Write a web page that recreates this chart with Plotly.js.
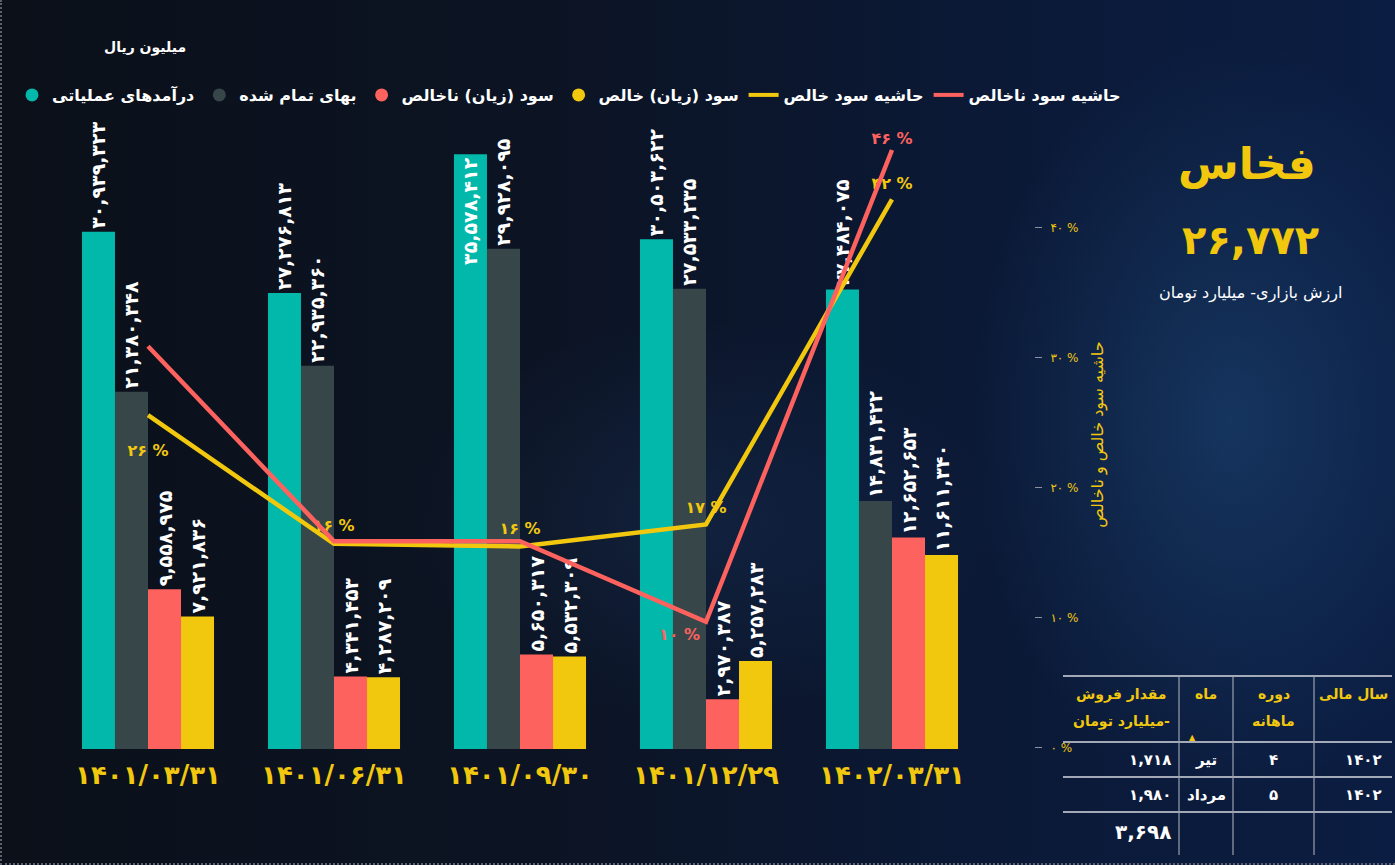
<!DOCTYPE html>
<html>
<head>
<meta charset="utf-8">
<script src="https://cdn.plot.ly/plotly-3.0.1.min.js"></script>
<style>
  html, body { margin: 0; padding: 0; }
  body {
    width: 1395px; height: 865px; overflow: hidden;
    background:
      radial-gradient(ellipse 260px 380px at 1230px 420px, rgba(45,110,170,0.30), rgba(0,0,0,0) 100%),
      radial-gradient(ellipse 300px 200px at 700px 520px, rgba(40,80,140,0.20), rgba(0,0,0,0) 100%),
      linear-gradient(90deg, #0b1019 0%, #0c1424 40%, #0b1936 70%, #0b1d42 100%);
  }
  #wrap { position: absolute; left: 0; top: 0; width: 1395px; height: 865px;
    border-left: 2px dotted #5a6070; border-bottom: 2px dotted #5a6070; box-sizing: border-box; }
  #chart { position: absolute; left: 0; top: 0; width: 1395px; height: 865px; }
</style>
</head>
<body>
<div id="wrap"></div>
<div id="chart"></div>
<script>
// ---------------- data ----------------
const categories = ['۱۴۰۱/۰۳/۳۱', '۱۴۰۱/۰۶/۳۱', '۱۴۰۱/۰۹/۳۰', '۱۴۰۱/۱۲/۲۹', '۱۴۰۲/۰۳/۳۱'];
const revenue     = [30939323, 27276813, 35578412, 30503622, 27484075];
const cost        = [21380348, 22935360, 29928095, 27533235, 14831422];
const grossProfit = [9558975, 4341453, 5650317, 2970387, 12652653];
const netProfit   = [7921836, 4287209, 5532309, 5257283, 11611340];
const grossMargin = [30.9, 15.9, 15.9, 9.7, 46.0];
const netMargin   = [25.6, 15.7, 15.5, 17.2, 42.2];
const grossMarginShown = [false, false, false, true, true];
const netMarginShown   = [true, true, true, true, true];

const seriesNames = ['درآمدهای عملیاتی', 'بهای تمام شده', 'سود (زیان) ناخالص', 'سود (زیان) خالص', 'حاشیه سود خالص', 'حاشیه سود ناخالص'];
const marginTicks = [0, 10, 20, 30, 40];

const tickerName = 'فخاس';
const marketValue = 26772;
const marketValueLabel = 'ارزش بازاری- میلیارد تومان';
const unitLabel = 'میلیون ریال';
const marginAxisTitle = 'حاشیه سود خالص و ناخالص';

const tableHeaderLine1 = ['سال مالی', 'دوره', 'ماه', 'مقدار فروش'];
const tableHeaderLine2 = ['', 'ماهانه', '', 'میلیارد تومان-'];
const tableYear   = [1402, 1402];
const tablePeriod = [4, 5];
const tableMonth  = ['تیر', 'مرداد'];
const tableSales  = [1718, 1980];
const tableTotal  = 3698;

// ---------------- helpers ----------------
const FA = '۰۱۲۳۴۵۶۷۸۹';
const fa = s => String(s).replace(/[0-9]/g, d => FA[d]);
const faNum = n => fa(Math.round(n).toLocaleString('en-US'));

const C_TEAL = '#01B8AA', C_GRAY = '#374649', C_RED = '#FD625E', C_YEL = '#F2C80F';
const FONT = 'DejaVu Sans, sans-serif';

const ML = 55, MT = 120, W = 1395, H = 865, MB = 116;
const PW = W - ML, PH = H - MT - MB;
const PX = x => (x - ML) / PW;
const PY = y => (H - MB - y) / PH;

const barText = arr => arr.map(faNum);
const barFont = {family: FONT, size: 19, color: '#ffffff', weight: 'bold'};

function barTrace(vals, color, positions) {
  return {
    type: 'bar', x: categories, y: vals,
    marker: {color: color},
    text: barText(vals),
    textposition: positions || 'outside',
    insidetextanchor: 'end',
    textangle: -90,
    textfont: barFont, outsidetextfont: barFont, insidetextfont: barFont,
    constraintext: 'none', cliponaxis: false,
    showlegend: false, hoverinfo: 'skip'
  };
}

const traces = [
  barTrace(revenue, C_TEAL, ['outside', 'outside', 'inside', 'outside', 'outside']),
  barTrace(cost, C_GRAY),
  barTrace(grossProfit, C_RED),
  barTrace(netProfit, C_YEL),
  {
    type: 'scatter', mode: 'lines+markers+text', x: categories, y: netMargin, yaxis: 'y2',
    line: {color: C_YEL, width: 4.5},
    marker: {size: [44, 12, 12, 10, 8], opacity: 0, line: {width: 0}},
    text: netMarginShown.map((s, i) => s ? fa(Math.round(netMargin[i])) + ' %' : ''),
    textposition: ['bottom center', 'top center', 'top center', 'top center', 'top center'],
    textfont: {family: FONT, size: 16, color: C_YEL, weight: 'bold'},
    cliponaxis: false, showlegend: false, hoverinfo: 'skip'
  },
  {
    type: 'scatter', mode: 'lines+markers+text', x: categories, y: grossMargin, yaxis: 'y2',
    line: {color: C_RED, width: 4.5},
    marker: {size: [2, 2, 2, 8, 1], opacity: 0, line: {width: 0}},
    text: grossMarginShown.map((s, i) => s ? fa(Math.round(grossMargin[i])) + ' %' : ''),
    textposition: ['top center', 'top center', 'top center', 'bottom left', 'top center'],
    textfont: {family: FONT, size: 16, color: C_RED, weight: 'bold'},
    cliponaxis: false, showlegend: false, hoverinfo: 'skip'
  }
];

// legend-only entries
const legendColors = [C_TEAL, C_GRAY, C_RED, C_YEL, C_YEL, C_RED];
seriesNames.forEach((nm, i) => {
  const isLine = i >= 4;
  traces.push({
    type: 'scatter', x: [null], y: [null], name: nm,
    mode: isLine ? 'lines' : 'markers',
    marker: {color: legendColors[i], size: 13, symbol: 'circle'},
    line: {color: legendColors[i], width: 4},
    showlegend: true, hoverinfo: 'skip'
  });
});

// ---------------- annotations & shapes ----------------
const annotations = [];
const shapes = [];

annotations.push({xref: 'paper', yref: 'paper', x: PX(145), y: PY(48), text: unitLabel,
  showarrow: false, xanchor: 'center', yanchor: 'middle',
  font: {family: FONT, size: 14, color: '#ffffff', weight: 'bold'}});

annotations.push({xref: 'paper', yref: 'paper', x: PX(1247), y: PY(163), text: tickerName,
  showarrow: false, xanchor: 'center', yanchor: 'middle',
  font: {family: FONT, size: 44, color: C_YEL, weight: 'bold'}});
annotations.push({xref: 'paper', yref: 'paper', x: PX(1250), y: PY(240), text: faNum(marketValue),
  showarrow: false, xanchor: 'center', yanchor: 'middle',
  font: {family: FONT, size: 40, color: C_YEL, weight: 'bold'}});
annotations.push({xref: 'paper', yref: 'paper', x: PX(1250), y: PY(293), text: marketValueLabel,
  showarrow: false, xanchor: 'center', yanchor: 'middle',
  font: {family: FONT, size: 16, color: '#ffffff'}});

// table
const colEdges = [1392, 1314, 1233, 1179, 1063];
const rowLines = [676, 742, 777, 812];
const tblTop = 676, tblBottom = 855;
rowLines.forEach(y => shapes.push({type: 'line', xref: 'paper', yref: 'paper',
  x0: PX(1063), x1: PX(1392), y0: PY(y), y1: PY(y), line: {color: '#d6d9df', width: 1.5}}));
[1314, 1233, 1179].forEach(x => shapes.push({type: 'line', xref: 'paper', yref: 'paper',
  x0: PX(x), x1: PX(x), y0: PY(tblTop), y1: PY(tblBottom), line: {color: '#9aa1ad', width: 1.2}}));

const colCenter = i => (colEdges[i] + colEdges[i + 1]) / 2;
const hFont = {family: FONT, size: 14, color: C_YEL, weight: 'bold'};
tableHeaderLine1.forEach((t, i) => {
  annotations.push({xref: 'paper', yref: 'paper', x: PX(colCenter(i)), y: PY(694), text: t,
    showarrow: false, xanchor: 'center', yanchor: 'middle', font: hFont});
  if (tableHeaderLine2[i]) annotations.push({xref: 'paper', yref: 'paper', x: PX(colCenter(i)), y: PY(721),
    text: tableHeaderLine2[i], showarrow: false, xanchor: 'center', yanchor: 'middle', font: hFont});
});
annotations.push({xref: 'paper', yref: 'paper', x: PX(1192), y: PY(737), text: '▲',
  showarrow: false, xanchor: 'center', yanchor: 'middle', font: {family: FONT, size: 8, color: C_YEL}});

const rowY = [760, 795];
const cFont = {family: FONT, size: 15, color: '#ffffff', weight: 'bold'};
tableYear.forEach((v, r) => {
  annotations.push({xref: 'paper', yref: 'paper', x: PX(1384), y: PY(rowY[r]), text: fa(v),
    showarrow: false, xanchor: 'right', yanchor: 'middle', font: cFont});
  annotations.push({xref: 'paper', yref: 'paper', x: PX(colCenter(1)), y: PY(rowY[r]), text: fa(tablePeriod[r]),
    showarrow: false, xanchor: 'center', yanchor: 'middle', font: cFont});
  annotations.push({xref: 'paper', yref: 'paper', x: PX(colCenter(2)), y: PY(rowY[r]), text: tableMonth[r],
    showarrow: false, xanchor: 'center', yanchor: 'middle', font: cFont});
  annotations.push({xref: 'paper', yref: 'paper', x: PX(1173), y: PY(rowY[r]), text: faNum(tableSales[r]),
    showarrow: false, xanchor: 'right', yanchor: 'middle', font: cFont});
});
annotations.push({xref: 'paper', yref: 'paper', x: PX(1173), y: PY(832), text: faNum(tableTotal),
  showarrow: false, xanchor: 'right', yanchor: 'middle',
  font: {family: FONT, size: 20, color: '#ffffff', weight: 'bold'}});

// ---------------- layout ----------------
const layout = {
  width: W, height: H,
  margin: {l: ML, r: 0, t: MT, b: MB, pad: 0},
  paper_bgcolor: 'rgba(0,0,0,0)', plot_bgcolor: 'rgba(0,0,0,0)',
  font: {family: FONT, color: '#ffffff'},
  barmode: 'group', bargap: 0.29, bargroupgap: 0,
  xaxis: {
    type: 'category', domain: [0, 930 / PW],
    showgrid: false, zeroline: false, showline: false, ticks: '',
    ticklabelstandoff: 8,
    tickfont: {family: FONT, size: 26, color: C_YEL, weight: 'bold'}
  },
  yaxis: {
    range: [0, PH / 16.715 * 1e6],
    showgrid: false, zeroline: false, showline: false, showticklabels: false, ticks: ''
  },
  yaxis2: {
    overlaying: 'y', side: 'right', anchor: 'free', position: PX(1034),
    range: [-0.08, PH / 13 - 0.08],
    showgrid: false, zeroline: false, showline: false,
    tickvals: marginTicks, ticktext: marginTicks.map(v => fa(v) + ' %'),
    ticks: 'outside', ticklen: 7, tickwidth: 1, tickcolor: '#8b93a3',
    ticklabelstandoff: 6,
    tickfont: {family: FONT, size: 12, color: C_YEL},
    title: {text: marginAxisTitle, standoff: 14, font: {family: FONT, size: 16, color: C_YEL}}
  },
  legend: {
    orientation: 'h', x: PX(12), y: PY(95), xanchor: 'left', yanchor: 'middle',
    font: {family: FONT, size: 16, color: '#ffffff', weight: 'bold'},
    itemwidth: 30, bgcolor: 'rgba(0,0,0,0)', traceorder: 'normal'
  },
  annotations: annotations,
  shapes: shapes,
  showlegend: true
};

Plotly.newPlot('chart', traces, layout, {displayModeBar: false, staticPlot: true});
</script>
</body>
</html>
